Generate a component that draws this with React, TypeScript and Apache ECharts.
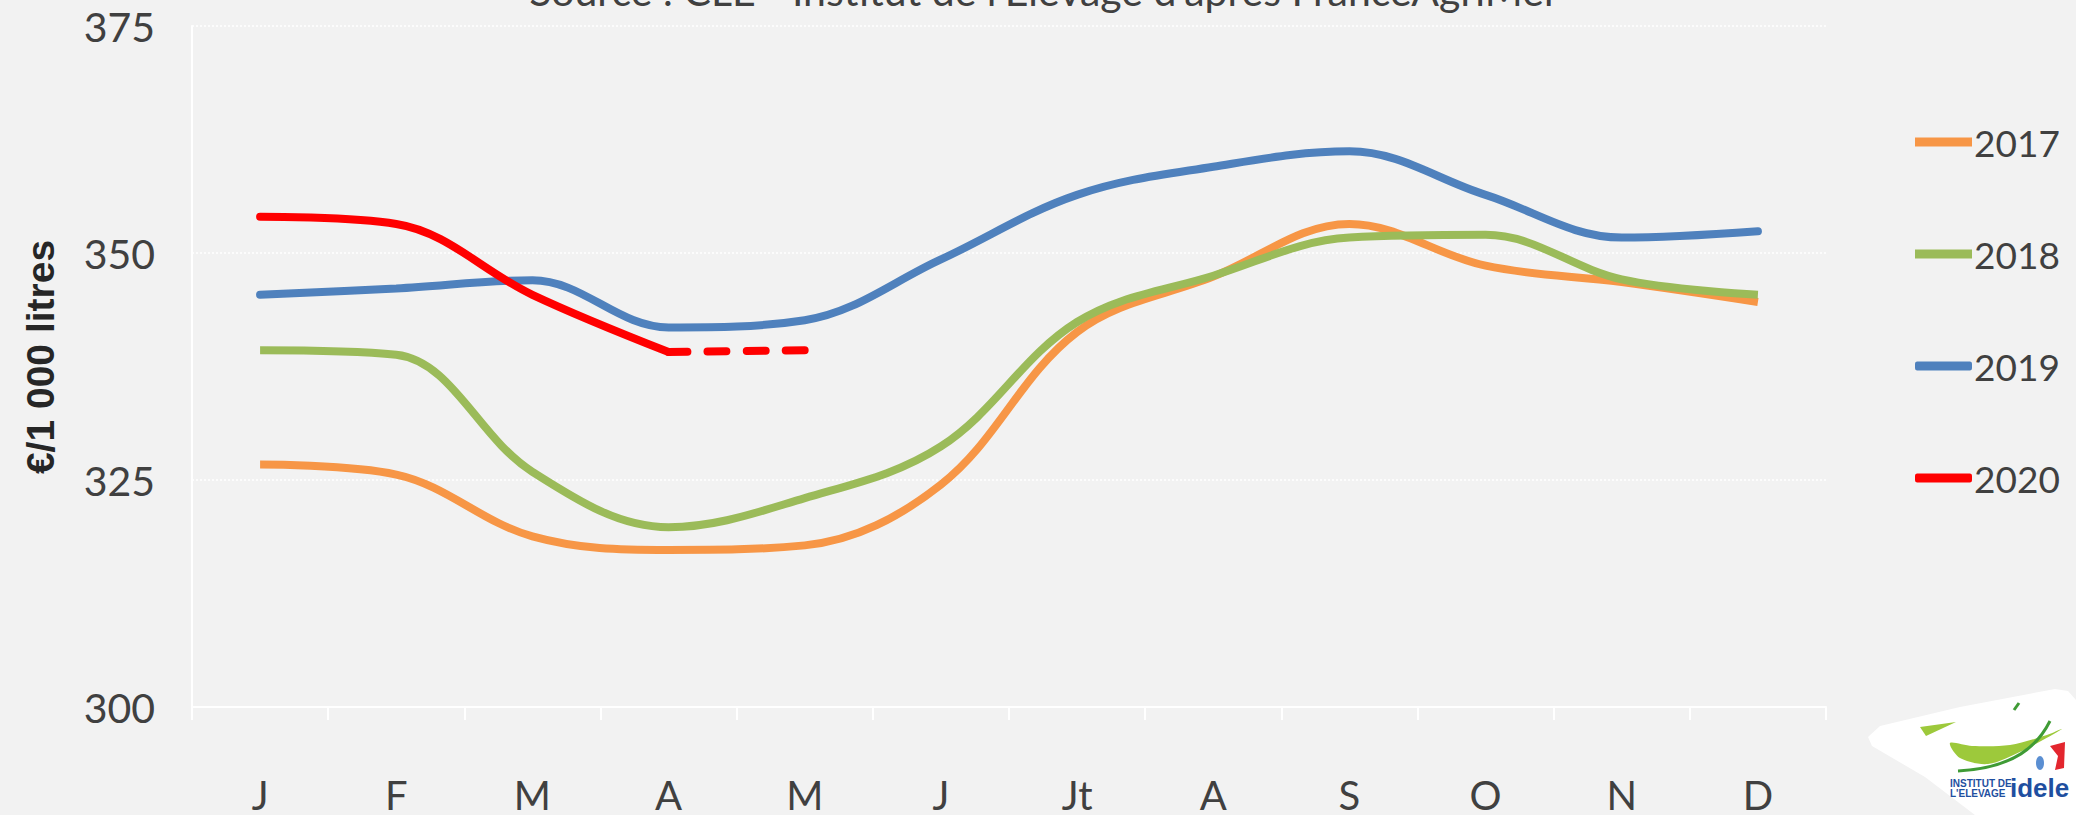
import React, { useEffect, useRef } from 'react';
import * as echarts from 'echarts';

const months = ['J', 'F', 'M', 'A', 'M', 'J', 'Jt', 'A', 'S', 'O', 'N', 'D'];
const seriesNames = ['2017', '2018', '2019', '2020'];
const s2017 = [326.7, 325.6, 318.8, 317.3, 317.8, 324.5, 341.3, 347.4, 353.2, 348.6, 346.8, 344.6];
const s2018 = [339.3, 338.8, 325.9, 319.8, 323.0, 328.7, 342.4, 347.5, 351.7, 352.0, 347.1, 345.4];
const s2019 = [345.4, 346.1, 347.0, 341.8, 342.6, 349.3, 356.4, 359.5, 361.2, 356.4, 351.7, 352.4];
const s2020 = [354.0, 353.2, 345.4, 339.1];
const s2020proj = [null, null, null, 339.1, 339.3];
const yMin = 300;
const yMax = 375;
const yStep = 25;

const colors = { o: '#F79646', g: '#9BBB59', b: '#4F81BD', r: '#FF0000' };
const FONT = 'Lato, "Liberation Sans", sans-serif';

export default function App() {
  const ref = useRef<HTMLDivElement>(null);
  useEffect(() => {
    document.body.style.margin = '0';
    const chart = echarts.init(ref.current!, null, { renderer: 'svg' });
    const line = (name: string, data: any[], color: string, cap: string, extra: any = {}) => ({
      name,
      type: 'line',
      data,
      smooth: 0.36,
      showSymbol: false,
      symbol: 'none',
      color,
      itemStyle: { color },
      lineStyle: { color, width: 8, cap },
      z: 3,
      ...extra,
    });
    chart.setOption({
      animation: false,
      backgroundColor: '#f2f2f2',
      textStyle: { fontFamily: FONT },
      grid: { left: 192, right: 250, top: 26, bottom: 105, containLabel: false },
      xAxis: {
        type: 'category',
        data: months,
        boundaryGap: true,
        axisLine: { show: true, lineStyle: { color: '#ffffff', width: 2 } },
        axisTick: { show: true, length: 13, lineStyle: { color: '#ffffff', width: 2 } },
        axisLabel: { color: '#404040', fontSize: 40, fontFamily: FONT, margin: 68, interval: 0 },
        splitLine: { show: false },
      },
      yAxis: {
        type: 'value',
        min: yMin,
        max: yMax,
        interval: yStep,
        axisLine: { show: true, lineStyle: { color: '#ffffff', width: 2 } },
        axisTick: { show: false },
        axisLabel: { color: '#404040', fontSize: 41, fontFamily: FONT, margin: 37 },
        splitLine: { show: true, lineStyle: { color: '#ffffff', width: 1.5, type: [2, 2] } },
      },
      legend: {
        orient: 'vertical',
        left: 1915,
        top: 122,
        itemWidth: 57,
        itemHeight: 9,
        itemGap: 72,
        padding: 0,
        textStyle: { color: '#404040', fontSize: 37, fontFamily: FONT, lineHeight: 40, padding: [0, 0, 0, -3] },
        itemStyle: { borderWidth: 0 },
        data: [
          { name: seriesNames[0], icon: 'rect' },
          { name: seriesNames[1], icon: 'rect' },
          { name: seriesNames[2], icon: 'roundRect' },
          { name: seriesNames[3], icon: 'roundRect' },
        ],
      },
      graphic: [
        {
          type: 'text',
          x: 1044,
          y: 11,
          style: {
            text: "Source : CLE - Institut de l'Elevage d'après FranceAgriMer",
            fill: '#404040',
            font: `41px ${FONT}`,
            textAlign: 'center',
            textVerticalAlign: 'bottom',
          },
        },
        {
          type: 'text',
          x: 40,
          y: 357,
          rotation: Math.PI / 2,
          style: {
            text: '€/1 000 litres',
            fill: '#262626',
            font: `bold 39px "Liberation Sans", Arial, sans-serif`,
            textAlign: 'center',
            textVerticalAlign: 'middle',
          },
        },
        {
          type: 'group',
          children: [
            {
              type: 'polygon',
              shape: {
                points: [
                  [1868, 737], [1880, 726], [1960, 707], [2055, 689], [2068, 691], [2076, 700],
                  [2076, 815], [1975, 815], [1925, 777], [1872, 746],
                ],
              },
              style: { fill: '#ffffff' },
            },
            {
              type: 'polygon',
              shape: { points: [[1920, 727], [1956, 722], [1926, 736]] },
              style: { fill: '#9dc93b' },
            },
            {
              type: 'polygon',
              shape: {
                points: [[1950, 743], [1972, 746], [2010, 745], [2047, 735], [2062, 729], [2022, 751], [1988, 764], [1960, 758]],
                smooth: 0.3,
              },
              style: { fill: '#9dc93b' },
            },
            {
              type: 'bezierCurve',
              shape: { x1: 1958, y1: 771, x2: 2050, y2: 721, cpx1: 2015, cpy1: 768, cpx2: 2038, cpy2: 745 },
              style: { stroke: '#3f9b35', lineWidth: 3, fill: 'none' },
            },
            {
              type: 'line',
              shape: { x1: 2014, y1: 710, x2: 2019, y2: 703 },
              style: { stroke: '#3f9b35', lineWidth: 3 },
            },
            {
              type: 'polygon',
              shape: { points: [[2050, 746], [2065, 742], [2064, 768], [2055, 770], [2058, 756]] },
              style: { fill: '#e3262e' },
            },
            {
              type: 'ellipse',
              shape: { cx: 2040, cy: 763, rx: 4, ry: 7 },
              style: { fill: '#5b8fd2' },
            },
            {
              type: 'text',
              x: 1950,
              y: 778,
              style: { text: 'INSTITUT DE', fill: '#1f4fa0', font: 'bold 10px "Liberation Sans Narrow", sans-serif' },
            },
            {
              type: 'text',
              x: 1950,
              y: 788,
              style: { text: "L'ELEVAGE", fill: '#1f4fa0', font: 'bold 10px "Liberation Sans Narrow", sans-serif' },
            },
            {
              type: 'text',
              x: 2010,
              y: 775,
              style: { text: 'idele', fill: '#1f4fa0', font: 'bold 26px "Liberation Sans", sans-serif' },
            },
          ],
        },
      ],
      series: [
        line(seriesNames[0], s2017, colors.o, 'butt'),
        line(seriesNames[1], s2018, colors.g, 'butt'),
        line(seriesNames[2], s2019, colors.b, 'round'),
        line(seriesNames[3], s2020, colors.r, 'round', { z: 4 }),
        line('2020 (prévision)', s2020proj, colors.r, 'round', {
          z: 4,
          lineStyle: { color: colors.r, width: 8, cap: 'round', type: [19, 20], dashOffset: 0 },
        }),
      ],
    });
    return () => chart.dispose();
  }, []);
  return <div ref={ref} style={{ width: 2076, height: 815 }} />;
}
